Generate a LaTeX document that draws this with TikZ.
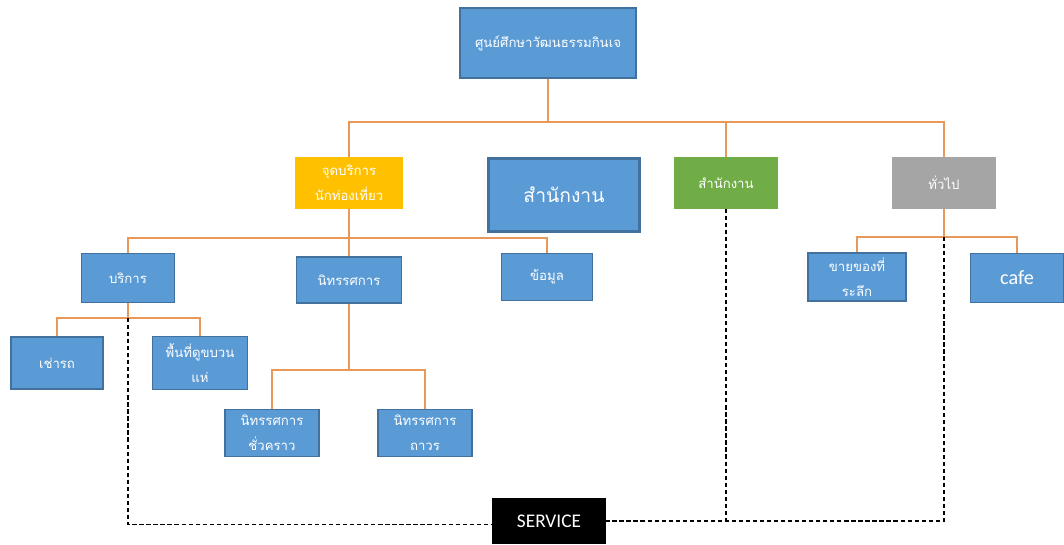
\documentclass[tikz,border=0pt]{standalone}
\usepackage{fontspec}
\setmainfont{Carlito}
\newfontfamily\thaifont[Script=Thai]{Loma}
\usepackage{tikz}
\definecolor{boxblue}{HTML}{5B9BD5}
\definecolor{boxline}{HTML}{41719C}
\definecolor{gold}{HTML}{FFC000}
\definecolor{leaf}{HTML}{70AD47}
\definecolor{stone}{HTML}{A5A5A5}
\definecolor{treeline}{HTML}{E8995A}
\tikzset{
    unit/.style={draw=boxline, line width=0.6pt, fill=boxblue, text=white, align=center, inner sep=0pt,
        font=\thaifont\fontsize{7.5}{14}\selectfont},
    tree/.style={draw=treeline, line width=0.9pt},
    svc/.style={draw=black, line width=0.9pt, dash pattern=on 2.4pt off 1.6pt}}

\begin{document}
\begin{tikzpicture}[x=0.02cm, y=-0.02cm]
            \useasboundingbox (0,0) rectangle (1064,544);

            \node[unit, minimum width=3.52cm, minimum height=1.4cm] (center) at (548,43) {ศูนย์ศึกษาวัฒนธรรมกินเจ};

            \node[unit, fill=gold, draw=gold, minimum width=2.12cm, minimum height=1cm] (tourist) at (349,183) {จุดบริการ\\นักท่องเที่ยว};
            \node[unit, line width=1.6pt, minimum width=3.02cm, minimum height=1.46cm, font=\thaifont\fontsize{11}{14}\selectfont] (officebig) at (564,195) {สำนักงาน};
            \node[unit, fill=leaf, draw=leaf, minimum width=2.04cm, minimum height=1cm] (office) at (726,183) {สำนักงาน};
            \node[unit, fill=stone, draw=stone, minimum width=2.04cm, minimum height=1cm] (general) at (944,183) {ทั่วไป};

            \node[unit, minimum width=1.86cm, minimum height=0.98cm] (service) at (128,278) {บริการ};
            \node[unit, minimum width=2.1cm, minimum height=0.92cm] (exhibit) at (349,280) {นิทรรศการ};
            \node[unit, minimum width=1.82cm, minimum height=0.94cm] (info) at (547,277) {ข้อมูล};

            \node[unit, minimum width=1.84cm, minimum height=1.04cm] (rent) at (57,363) {เช่ารถ};
            \node[unit, minimum width=1.9cm, minimum height=1.06cm] (parade) at (200,363) {พื้นที่ดูขบวน\\แห่};

            \node[unit, minimum width=1.88cm, minimum height=0.94cm] (temp) at (272,433) {นิทรรศการ\\ชั่วคราว};
            \node[unit, minimum width=1.88cm, minimum height=0.94cm] (perm) at (425,433) {นิทรรศการ\\ถาวร};

            \node[unit, minimum width=1.96cm, minimum height=0.96cm] (souvenir) at (857,277) {ขายของที่\\ระลึก};
            \node[unit, minimum width=1.86cm, minimum height=0.98cm, font=\fontsize{11.5}{13}\selectfont] (cafe) at (1017,278) {cafe};

            \node[fill=black, text=white, minimum width=2.28cm, minimum height=0.92cm, inner sep=0pt, font=\fontsize{11}{13}\selectfont] (svcbox) at (549,521) {SERVICE};

            % bus lines
            \coordinate (bus1) at (0,122);
            \coordinate (bus2) at (0,238);
            \coordinate (bus3) at (0,318);
            \coordinate (bus4) at (0,370);
            \coordinate (bus5) at (0,237);

            \draw[tree] (center.south) |- (tourist.north |- bus1) -- (tourist.north);
            \draw[tree] (center.south) |- (office.north |- bus1) -- (office.north);
            \draw[tree] (center.south) |- (general.north |- bus1) -- (general.north);

            \draw[tree] (tourist.south) |- (service.north |- bus2) -- (service.north);
            \draw[tree] (tourist.south) -- (exhibit.north);
            \draw[tree] (tourist.south) |- (info.north |- bus2) -- (info.north);

            \draw[tree] (service.south) |- (rent.north |- bus3) -- (rent.north);
            \draw[tree] (service.south) |- (parade.north |- bus3) -- (parade.north);

            \draw[tree] (exhibit.south) |- (temp.north |- bus4) -- (temp.north);
            \draw[tree] (exhibit.south) |- (perm.north |- bus4) -- (perm.north);

            \draw[tree] (general.south) |- (souvenir.north |- bus5) -- (souvenir.north);
            \draw[tree] (general.south) |- (cafe.north |- bus5) -- (cafe.north);

            % service links
            \draw[svc] (service.south |- bus3) |- ([yshift=-2pt]svcbox.west);
            \draw[svc] (general.south |- bus5) |- (svcbox.east);
            \draw[svc] (office.south) -- (office.south |- svcbox.east);

        \end{tikzpicture}
\end{document}
